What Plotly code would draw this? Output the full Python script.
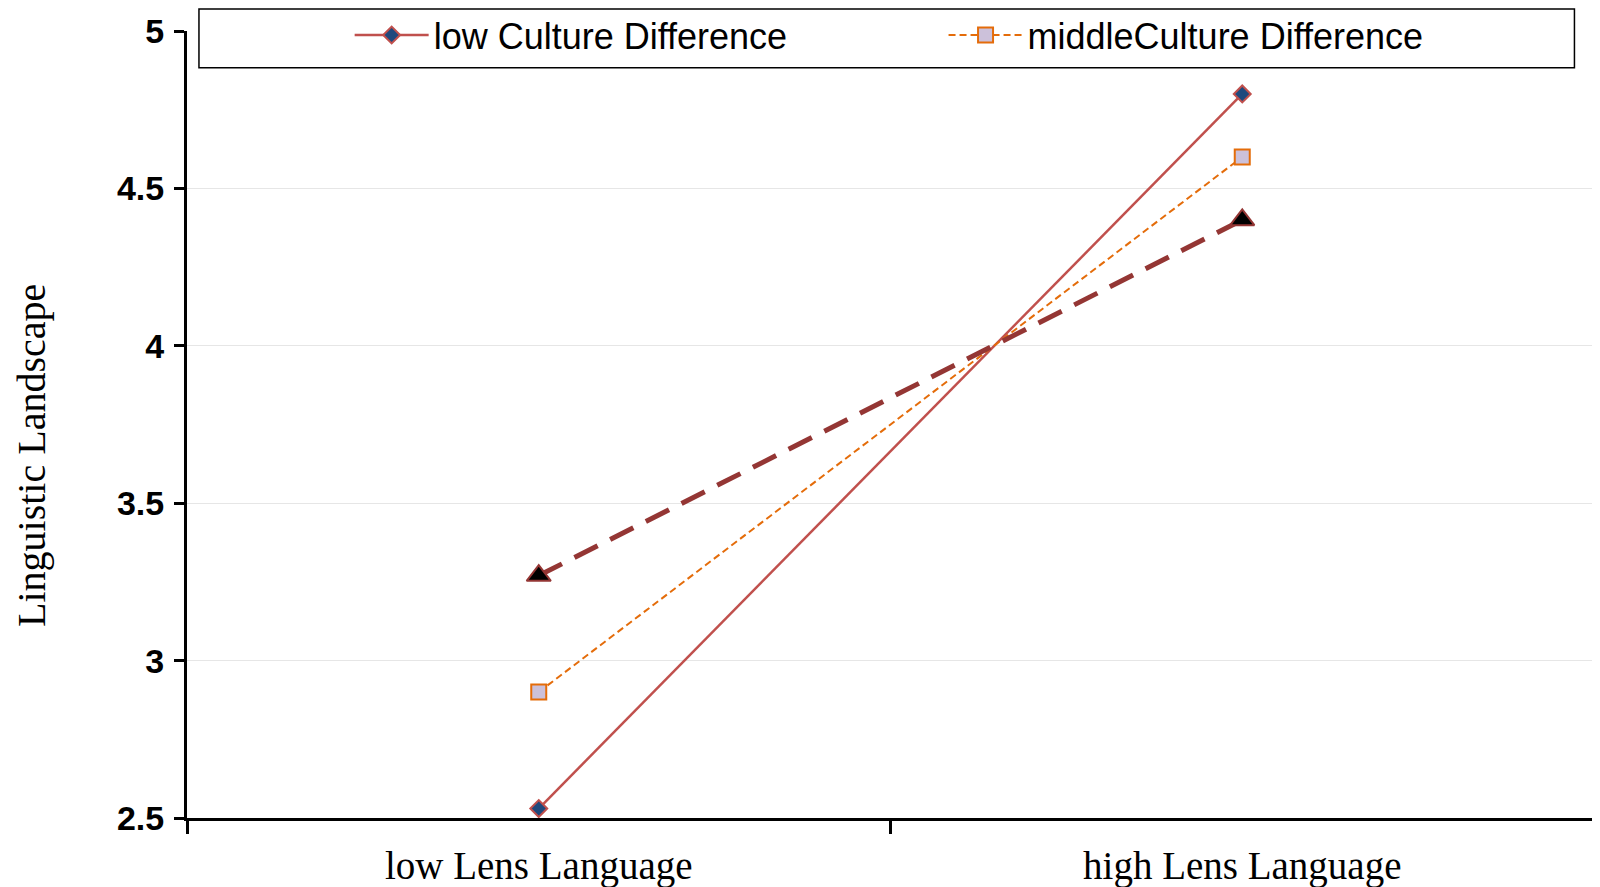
"""Interaction plot: Lens Language x Culture Difference on Linguistic Landscape."""
import plotly.graph_objects as go

categories = ["low Lens Language", "high Lens Language"]
low_culture = [2.53, 4.80]
middle_culture = [2.90, 4.60]
high_culture = [3.27, 4.40]
y_ticks = [2.5, 3, 3.5, 4, 4.5, 5]
y_tick_labels = ["2.5", "3", "3.5", "4", "4.5", "5"]

SERIF = "Liberation Serif, Times New Roman, serif"
SANS = "Liberation Sans, Arial, sans-serif"

fig = go.Figure()

fig.add_trace(go.Scatter(
    x=categories, y=low_culture, name="low Culture Difference",
    mode="lines+markers",
    line=dict(color="#C0504D", width=2.5),
    marker=dict(symbol="diamond", size=13, color="#1F497D",
                line=dict(color="#C0504D", width=2)),
    legend="legend",
))
fig.add_trace(go.Scatter(
    x=categories, y=middle_culture, name="middleCulture Difference",
    mode="lines+markers",
    line=dict(color="#E46C0A", width=2, dash="7px,4px"),
    marker=dict(symbol="square", size=15, color="#CCC1DA",
                line=dict(color="#E46C0A", width=2)),
    legend="legend2",
))
fig.add_trace(go.Scatter(
    x=categories, y=high_culture, name="high Culture Difference",
    mode="lines+markers",
    line=dict(color="#943634", width=5, dash="26px,14px"),
    marker=dict(symbol="triangle-up", size=21, color="black",
                line=dict(color="#943634", width=2)),
    showlegend=False,
))

# legend frame (the two legends sit inside it)
fig.add_shape(type="rect", xref="paper", yref="paper",
              x0=0.0085, x1=0.9861, y0=0.9534, y1=1.0280,
              line=dict(color="black", width=1.5), fillcolor="white",
              layer="above")

legend_common = dict(
    orientation="h", yanchor="middle", y=0.9948, xanchor="left",
    bgcolor="rgba(0,0,0,0)", borderwidth=0, itemwidth=74,
    font=dict(family=SANS, size=36, color="black"),
)
fig.update_layout(
    legend=dict(x=0.1156, **legend_common),
    legend2=dict(x=0.5377, **legend_common),
)

fig.add_annotation(
    text="Linguistic Landscape", textangle=-90,
    xref="paper", yref="paper", x=(24 - 179) / 1407, y=0.46,
    xanchor="center", yanchor="middle", showarrow=False,
    font=dict(family=SERIF, size=40, color="black"),
)

fig.update_xaxes(
    type="category", range=[-0.5, 1.5], tickson="boundaries",
    ticks="outside", ticklen=13, tickwidth=3, tickcolor="black",
    showline=True, linecolor="black", linewidth=3,
    showgrid=False, zeroline=False,
    tickfont=dict(family=SERIF, size=39, color="black"),
    ticklabelstandoff=11,
)
fig.update_yaxes(
    range=[2.5, 5], tickvals=y_ticks, ticktext=y_tick_labels,
    ticks="outside", ticklen=10, tickwidth=3, tickcolor="black",
    showline=True, linecolor="black", linewidth=3,
    showgrid=True, gridcolor="#E6E6E6", gridwidth=1, zeroline=False,
    tickfont=dict(family=SANS, size=34, color="black", weight="bold"),
    ticklabelstandoff=3,
)

fig.update_layout(
    width=1600, height=887,
    margin=dict(l=179, r=14, t=23, b=77, autoexpand=False),
    plot_bgcolor="white", paper_bgcolor="white",
)

fig.write_html("out.html")
